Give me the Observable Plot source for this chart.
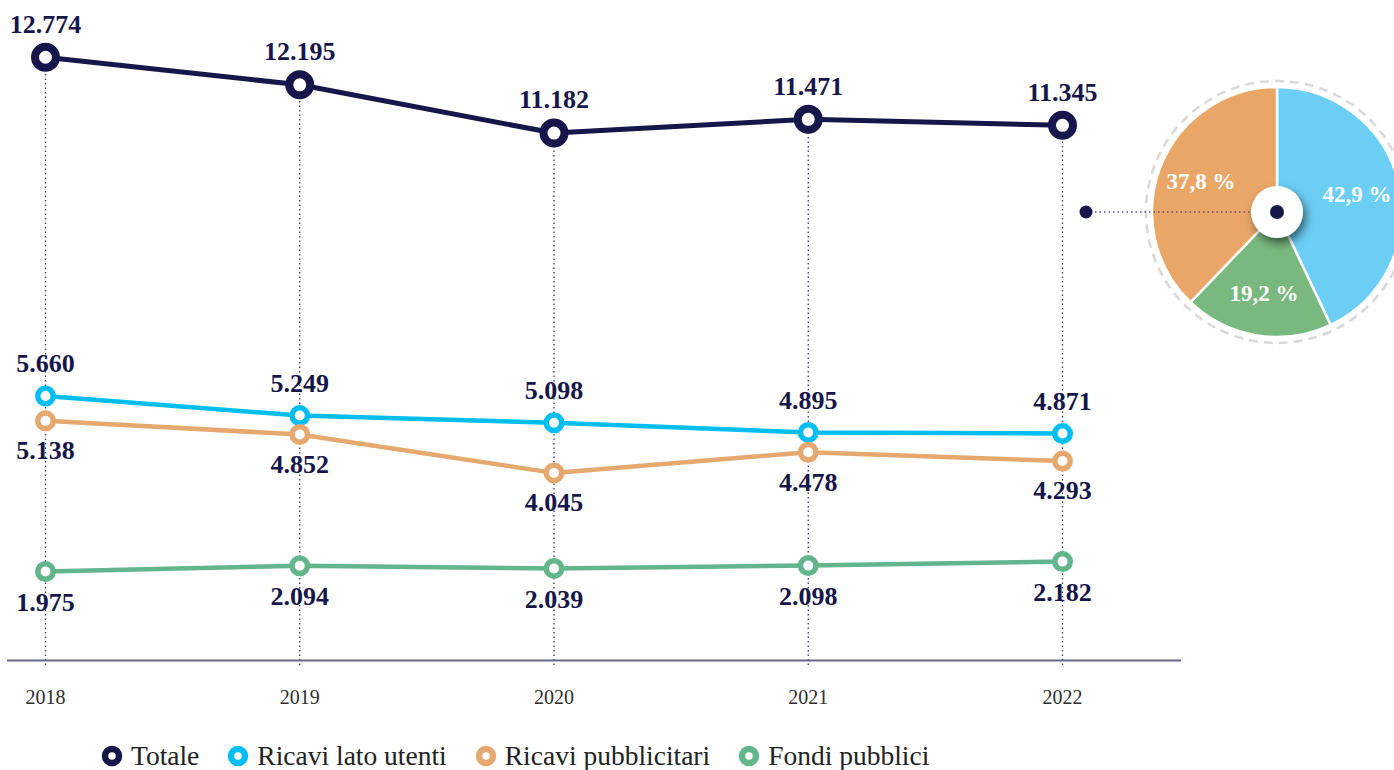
<!DOCTYPE html>
<html>
<head>
<meta charset="utf-8">
<script src="https://cdn.jsdelivr.net/npm/d3@7"></script>
<script src="https://cdn.jsdelivr.net/npm/@observablehq/plot@0.6"></script>
<style>
  html, body { margin: 0; padding: 0; background: #fff; }
  #chart svg { display: block; }
  .legend { display: flex; align-items: center; height: 32px; margin-top: 12px; padding-left: 101px;
            font-family: "Liberation Serif", serif; font-size: 27.5px; color: #222; }
  .legend .item { display: flex; align-items: center; margin-right: 28px; }
  .legend svg { margin-right: 8px; }
</style>
</head>
<body>
<div id="chart"></div>
<div class="legend" id="legend"></div>
<script>
// ---- data ----
const years = [2018, 2019, 2020, 2021, 2022];
const seriesNames = ["Totale", "Ricavi lato utenti", "Ricavi pubblicitari", "Fondi pubblici"];
const totale = [12774, 12195, 11182, 11471, 11345];
const ricaviUtenti = [5660, 5249, 5098, 4895, 4871];
const ricaviPubblicitari = [5138, 4852, 4045, 4478, 4293];
const fondiPubblici = [1975, 2094, 2039, 2098, 2182];
const pieLabels = ["Ricavi lato utenti", "Fondi pubblici", "Ricavi pubblicitari"];
const pieShares = [42.9, 19.2, 37.8];

// ---- styles ----
const colors = {"Totale": "#16164a", "Ricavi lato utenti": "#00bdf2", "Ricavi pubblicitari": "#e5a86e", "Fondi pubblici": "#63b58c"};
const pieColors = {"Ricavi lato utenti": "#6ccef5", "Fondi pubblici": "#79b97f", "Ricavi pubblicitari": "#e9a667"};
const navy = "#16164a";
const serif = "'Liberation Serif', 'DejaVu Serif', serif";

const it = d3.formatLocale({decimal: ",", thousands: ".", grouping: [3], currency: ["", " €"]});
const fmtInt = it.format(",d");
const fmtPct = it.format(",.1f");

const valuesBySeries = [totale, ricaviUtenti, ricaviPubblicitari, fondiPubblici];
const rows = [];
seriesNames.forEach((s, i) => years.forEach((y, j) => rows.push({series: s, year: y, value: valuesBySeries[i][j] / 1000, raw: valuesBySeries[i][j]})));
const rowsOf = s => rows.filter(d => d.series === s);

const W = 1394, H = 728;

function pieMark(index, scales, values, dimensions) {
  const cx = dimensions.width - 117;
  const cy = dimensions.marginTop + 166;
  const R = 125;
  const g = d3.create("svg:g");
  const defs = g.append("defs");
  const f = defs.append("filter").attr("id", "holeShadow").attr("x", "-60%").attr("y", "-60%").attr("width", "220%").attr("height", "220%");
  f.append("feDropShadow").attr("dx", 3).attr("dy", 5).attr("stdDeviation", 5).attr("flood-color", "#000").attr("flood-opacity", 0.55);
  const data = pieLabels.map((l, i) => ({label: l, v: pieShares[i]}));
  const arcs = d3.pie().sort(null).value(d => d.v)(data);
  const arc = d3.arc().innerRadius(0).outerRadius(R);
  const labelArc = d3.arc().innerRadius(82).outerRadius(82);
  g.append("circle").attr("cx", cx).attr("cy", cy).attr("r", 131)
    .attr("fill", "none").attr("stroke", "#d9d9d9").attr("stroke-width", 2.5).attr("stroke-dasharray", "9 6");
  const pg = g.append("g").attr("transform", `translate(${cx},${cy})`);
  pg.selectAll("path").data(arcs).join("path")
    .attr("d", arc).attr("fill", d => pieColors[d.data.label]).attr("stroke", "#fff").attr("stroke-width", 2.5);
  pg.selectAll("text").data(arcs).join("text")
    .attr("transform", d => `translate(${labelArc.centroid(d)})`)
    .attr("text-anchor", "middle").attr("dy", "0.35em")
    .attr("fill", "#fff").attr("font-family", serif).attr("font-weight", "bold").attr("font-size", 23)
    .text(d => fmtPct(d.data.v) + " %");
  g.append("line").attr("x1", cx - 191).attr("x2", cx).attr("y1", cy).attr("y2", cy)
    .attr("stroke", "#55557a").attr("stroke-width", 1.5).attr("stroke-dasharray", "1.5 3");
  g.append("circle").attr("cx", cx - 191).attr("cy", cy).attr("r", 6.5).attr("fill", navy);
  g.append("circle").attr("cx", cx).attr("cy", cy).attr("r", 26).attr("fill", "#fff").attr("filter", "url(#holeShadow)");
  g.append("circle").attr("cx", cx).attr("cy", cy).attr("r", 7).attr("fill", navy);
  return g.node();
}

const labelBase = {x: "year", y: "value", text: d => fmtInt(d.raw), fill: navy, fontFamily: serif, fontWeight: "bold", fontSize: 26};

const chart = Plot.plot({
  width: W,
  height: H,
  marginLeft: 45,
  marginRight: W - 1062,
  marginTop: 46,
  marginBottom: H - 665,
  x: {type: "linear", domain: [2018, 2022], axis: null},
  y: {type: "linear", domain: [0, 13], axis: null},
  style: {background: "#fff", overflow: "visible"},
  marks: [
    Plot.ruleX(rowsOf("Totale"), {x: "year", y1: 0, y2: "value", stroke: navy, strokeWidth: 1.3, strokeDasharray: "1.5,3", strokeOpacity: 0.85}),
    Plot.ruleY([0], {dy: -5, insetLeft: -38, insetRight: -119, stroke: "#66668a", strokeWidth: 2}),
    ...seriesNames.map(s => Plot.line(rowsOf(s), {x: "year", y: "value", stroke: colors[s], strokeWidth: s === "Totale" ? 5 : 4.5})),
    ...seriesNames.map(s => Plot.dot(rowsOf(s), {x: "year", y: "value", r: s === "Totale" ? 10.5 : 7.75, fill: "#fff", stroke: colors[s], strokeWidth: s === "Totale" ? 8 : 5.5})),
    Plot.text(rowsOf("Totale"), {...labelBase, dy: -33}),
    Plot.text(rowsOf("Ricavi lato utenti"), {...labelBase, dy: -32}),
    Plot.text(rowsOf("Ricavi pubblicitari"), {...labelBase, dy: 30}),
    Plot.text(rowsOf("Fondi pubblici"), {...labelBase, dy: 31}),
    Plot.text(years, {x: d => d, y: 0, dy: 32, text: d => String(d), fill: "#2e2e2e", fontFamily: serif, fontSize: 20}),
    pieMark
  ]
});
document.getElementById("chart").append(chart);

// legend
const legend = d3.select("#legend");
seriesNames.forEach(s => {
  const item = legend.append("div").attr("class", "item");
  const svg = item.append("svg").attr("width", 22).attr("height", 22);
  svg.append("circle").attr("cx", 11).attr("cy", 11).attr("r", 7).attr("fill", "#fff").attr("stroke", colors[s]).attr("stroke-width", 6.5);
  item.append("span").text(s);
});
</script>
</body>
</html>
